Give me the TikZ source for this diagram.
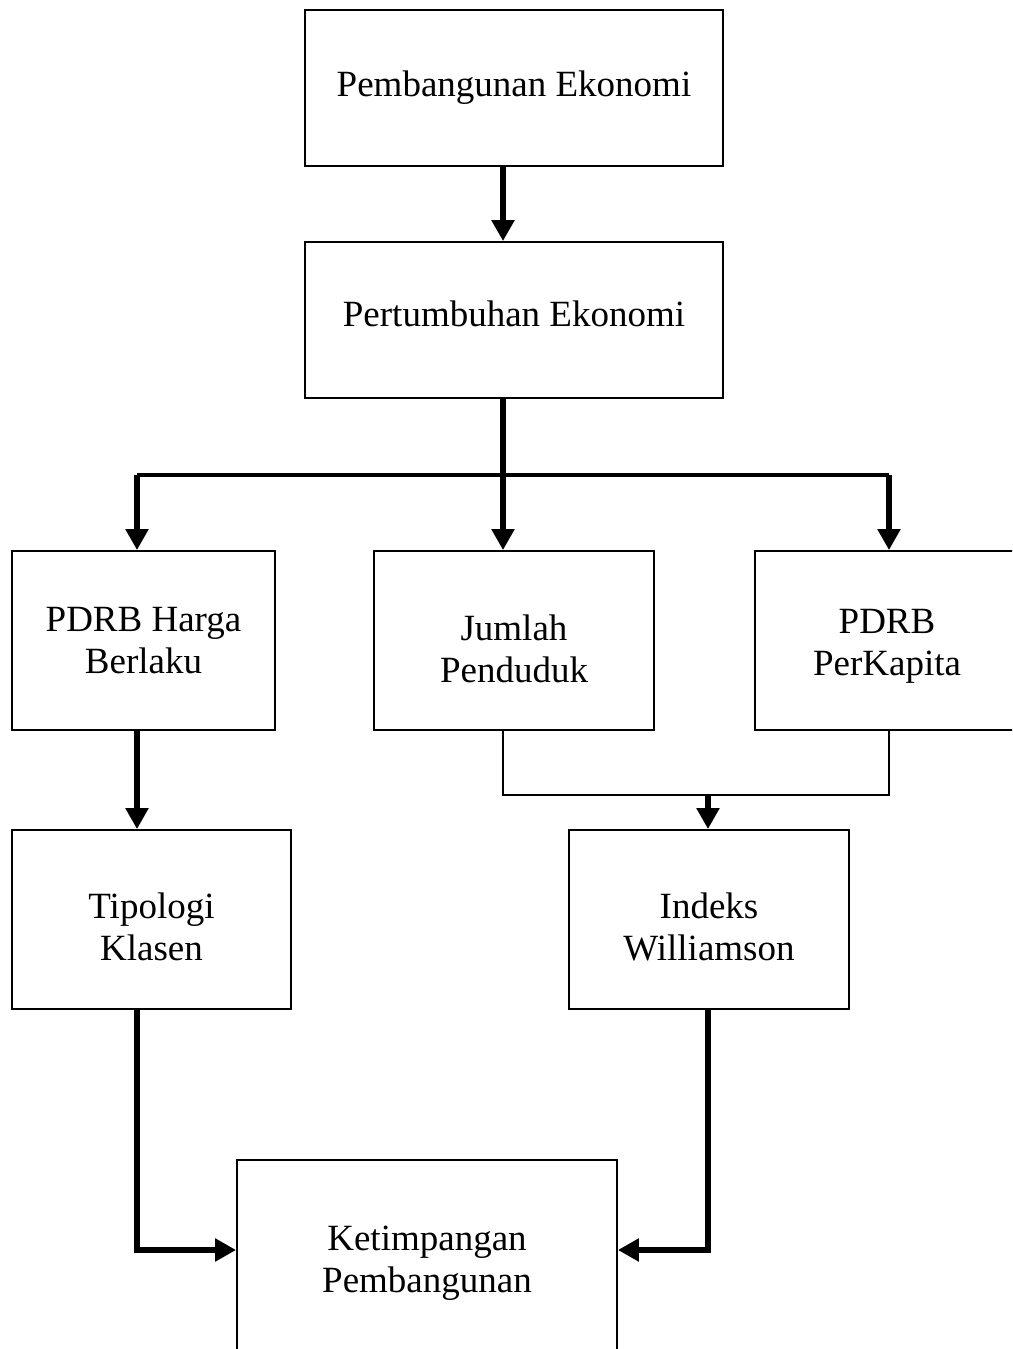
\documentclass[tikz,border=0pt]{standalone}
\usepackage{fontspec}
\setmainfont{Liberation Serif}
\usetikzlibrary{arrows.meta,positioning,calc}

\begin{document}
\begin{tikzpicture}[x=1pt, y=-1pt,
  font=\fontsize{37}{42}\selectfont,
  box/.style={draw, line width=1.8pt, align=center, inner sep=0pt, minimum height=179pt},
  txt/.style={align=center, inner sep=0pt},
  arr/.style={-{Triangle[length=21pt, width=22pt]}, line width=5.5pt},
  bus/.style={line width=3.5pt},
  merge/.style={line width=2.2pt}]
  \useasboundingbox (0,0) rectangle (1012,1349);
  \clip (0,0) rectangle (1012,1349);
  % top chain
  \node[box, minimum width=418pt, minimum height=156pt] (pe) at (514,88) {Pembangunan Ekonomi};
  \node[box, minimum width=418pt, minimum height=156pt,
    label={[txt, yshift=6pt]center:Pertumbuhan Ekonomi}] (pt) at (514,320) {};
  % indicators
  \node[box, minimum width=263pt] (hb) at (143.5,640.5) {PDRB Harga\\Berlaku};
  \node[box, minimum width=280pt,
    label={[txt, yshift=-8pt]center:{Jumlah\\Penduduk}}] (jp) at (514,640.5) {};
  \node[box, minimum width=264pt,
    label={[txt, yshift=-6pt]center:{PDRB\\PerKapita}}] (kap) at (887,640.5) {};
  % analysis tools
  \node[box, minimum width=279pt,
    label={[txt, yshift=-7pt]center:{Tipologi\\Klasen}}] (tk) at (151.5,919.5) {};
  \node[box, minimum width=280pt,
    label={[txt, yshift=-7pt]center:{Indeks\\Williamson}}] (iw) at (709,919.5) {};
  % result
  \node[box, minimum width=380pt, minimum height=196pt,
    label={[txt, yshift=-5pt]center:{Ketimpangan\\Pembangunan}}] (kp) at (427,1258) {};
  \coordinate (split) at (503,475);
  \coordinate (lsplit) at (137,475);
  \coordinate (rsplit) at (889,475);
  \coordinate (joint) at (708,795);
  \coordinate (lhook) at (137,1250);
  \coordinate (rhook) at (708,1250);
  \draw[arr] (split |- pe.south) -- (split |- pt.north);
  \draw[bus] (lsplit) -- (rsplit);
  \draw[arr] (split |- pt.south) -- (split |- jp.north);
  \draw[arr] (lsplit) -- (lsplit |- hb.north);
  \draw[arr] (rsplit) -- (rsplit |- kap.north);
  \draw[arr] (lsplit |- hb.south) -- (lsplit |- tk.north);
  \draw[merge] (split |- jp.south) -- (split |- joint) -- (rsplit |- joint) -- (rsplit |- kap.south);
  \draw[arr] (joint) -- (joint |- iw.north);
  \draw[arr] (lsplit |- tk.south) -- (lhook) -- (lhook -| kp.west);
  \draw[arr] (rhook |- iw.south) -- (rhook) -- (rhook -| kp.east);
\end{tikzpicture}
\end{document}
